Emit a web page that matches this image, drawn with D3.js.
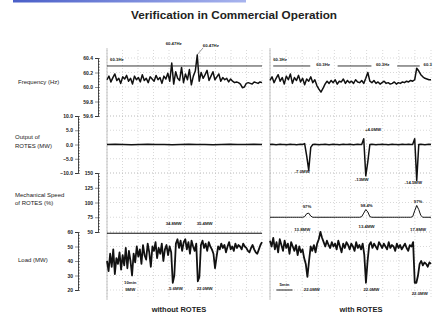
<!DOCTYPE html>
<html><head><meta charset="utf-8">
<script src="https://cdn.jsdelivr.net/npm/d3@7"></script>
<style>
body{margin:0;background:#fff;}
text{font-family:"Liberation Sans",Arial,sans-serif;fill:#222;}
</style></head><body><svg id="c" width="433" height="322"></svg>
<script>
// ---- data ----
const freqTicks=[59.6,59.8,60.0,60.2,60.4];
const outTicks=[-10,-5,0,5,10];
const speedTicks=[50,75,100,125,150];
const loadTicks=[20,30,40,50,60];
const freqRef=60.29;
const freqLeft=[60.10,60.15,60.07,60.13,60.18,60.09,60.12,60.05,60.14,60.11,
60.16,60.08,60.12,60.04,60.15,60.10,60.13,60.07,60.17,60.09,
60.12,60.06,60.14,60.11,60.08,60.16,60.10,60.13,60.05,60.15,
60.11,60.19,60.08,60.33,60.04,60.21,60.12,60.09,60.27,60.06,
60.18,60.10,60.24,60.03,60.15,60.22,60.44,60.08,60.20,60.12,
60.17,60.23,60.09,60.15,60.21,60.10,60.14,60.18,60.08,60.13,
60.10,60.12,60.07,60.11,60.08,60.06,60.07,60.06,60.04,59.99,
60.00,60.05,60.06,60.05,60.04,60.07,60.06,60.05,60.07,60.06];
const freqRight=[60.09,60.14,60.06,60.12,60.17,60.08,60.13,60.04,60.15,60.10,
60.18,60.05,60.13,60.09,60.16,60.07,60.12,60.03,60.11,60.08,
60.14,60.06,60.10,60.02,59.97,59.93,59.98,60.04,60.08,60.05,
60.09,60.06,60.10,60.04,60.08,60.07,60.11,60.05,60.09,60.06,
60.08,60.05,60.10,60.07,60.06,60.09,60.05,60.12,60.20,60.08,
60.06,60.09,60.05,60.07,60.04,60.06,60.08,60.05,60.06,60.04,
60.05,60.07,60.04,60.06,60.05,60.07,60.06,60.08,60.07,60.09,
60.08,60.10,60.26,60.22,60.17,60.14,60.12,60.11,60.10,60.10];
const outLeft=[0,0.1,0,-0.1,0,0.1,0,0,-0.1,0,0.1,0,0,-0.1,0,0.1,0,0,0.1,0];
const outRight=[0,0.1,0,-0.1,0,0.1,0,0,-0.1,0,0.1,0,0,-0.1,0,0.1,0,0.3,-4,-9,
-1,0,0.1,0,-0.1,0,0,0.1,0,-0.1,0,0.1,0,0,-0.1,0,0.1,0,0,0.1,
0,-0.1,0,0.1,0,0,2,-11,-6,0,0.1,0,-0.1,0,0,0.1,0,0,-0.1,0,
0.1,0,0,-0.1,0,0.1,0,0,0.1,0,0,2,-12.6,0,0.1,0,-0.1,0,0.1,0];
const speedLeft=[48,48,48,48,48,48,48,48,48,48,48,48,48,48,48,48,48,48,48,48];
const speedRight=[75,75,75,75,75,75,75,75,75,75,75,75,75,75,75,75,75,76,81,82,
77,75,75,75,75,75,75,75,75,75,75,75,75,75,75,75,75,75,75,75,
75,75,75,75,75,76,82,88,84,76,75,75,75,75,75,75,75,75,75,75,
75,75,75,75,75,75,75,75,75,75,76,86,95,88,78,75,75,75,75,75];
const loadLeft=[40,33,45,36,48,31,42,38,46,34,
44,37,49,35,47,40,30,45,39,50,
43,48,38,51,44,41,52,46,36,50,
47,53,42,49,45,52,40,48,51,44,
50,46,25,30,52,55,49,54,47,53,
55,48,53,45,54,50,47,52,26,29,
51,54,49,52,47,53,50,48,45,35,
43,50,48,52,49,51,46,50,53,48,
50,47,52,49,51,50,48,52,50,49,
47,46,49,51,48,46,45,48,51,53];
const loadRight=[54,50,56,48,53,46,55,51,47,54,
49,52,45,53,50,47,51,44,50,46,
48,42,38,29,40,50,47,51,46,52,
55,60,56,53,50,54,51,49,53,50,
52,48,54,50,46,52,49,53,51,48,
52,50,47,53,49,51,48,52,44,25,
40,51,53,49,52,50,48,53,51,49,
52,50,48,53,49,51,50,47,52,49,
51,48,50,52,49,47,51,50,53,25,
25,30,38,40,37,39,38,36,39,38];

// ---- scales ----
const svg=d3.select("#c");
const xL=d3.scaleLinear([0,100],[107,262]);
const xR=d3.scaleLinear([0,100],[270,431]);
const yF=d3.scaleLinear([59.6,60.4],[116,58]);
const yO=d3.scaleLinear([-10,10],[173,116]);
const yS=d3.scaleLinear([50,150],[232,173]);
const yLd=d3.scaleLinear([20,60],[290,232]);

// header bar
const grad=svg.append("defs").append("linearGradient").attr("id","bar");
grad.append("stop").attr("offset","0").attr("stop-color","#4a5fc8");
grad.append("stop").attr("offset","1").attr("stop-color","#a8b4ee");
svg.append("rect").attr("x",13).attr("y",0).attr("width",233).attr("height",2.5).attr("fill","url(#bar)");
svg.append("text").attr("x",234).attr("y",19).attr("text-anchor","middle")
  .attr("font-size",10).attr("font-weight","bold").attr("textLength",206).attr("lengthAdjust","spacingAndGlyphs")
  .text("Verification in Commercial Operation");

// grid
const g=svg.append("g").attr("stroke","#888").attr("stroke-width",0.5).attr("stroke-dasharray","1,2").attr("opacity",0.65);
[xL,xR].forEach(x=>{
  d3.range(0,101,10).forEach(p=>g.append("line").attr("x1",x(p)).attr("x2",x(p)).attr("y1",50).attr("y2",298));
  const hy=[].concat(freqTicks.map(yF),outTicks.map(yO),speedTicks.map(yS),loadTicks.map(yLd));
  hy.forEach(y=>g.append("line").attr("x1",x(0)).attr("x2",x(100)).attr("y1",y).attr("y2",y));
});
[xL,xR].forEach(x=>svg.append("line").attr("x1",x(0)).attr("x2",x(0)).attr("y1",48).attr("y2",300).attr("stroke","#aaa").attr("stroke-width",0.7));

// axes
function axis(scale,xpos,ticks,fmt){
  const a=svg.append("g").attr("transform",`translate(${xpos},0)`);
  a.call(d3.axisLeft(scale).tickValues(ticks).tickFormat(fmt).tickSize(3).tickPadding(2));
  const d=scale.domain(),step=(ticks[1]-ticks[0])/5;
  a.append("g").call(d3.axisRight(scale).tickValues(d3.range(d[0],d[1]+step/2,step)).tickFormat("").tickSize(2));
  a.selectAll("path").attr("stroke","#222").attr("stroke-width",0.8);
  a.selectAll("line").attr("stroke","#222").attr("stroke-width",0.5);
  a.selectAll("g > g > path").remove();
  a.selectAll("text").attr("font-size",5).attr("font-weight","bold").attr("fill","#333");
}
axis(yF,98,freqTicks,d3.format(".1f"));
axis(yO,78,outTicks,d3.format(".1f"));
axis(yS,98,speedTicks,d3.format("d"));
axis(yLd,78,loadTicks,d3.format("d"));

// side labels
const side=[["Frequency (Hz)",18,84],["Output of",15,139],["ROTES (MW)",15,148],
 ["Mechanical Speed",15,197],["of ROTES (%)",15,205],["Load (MW)",18,262]];
side.forEach(s=>svg.append("text").attr("x",s[1]).attr("y",s[2]).attr("font-size",6).attr("fill","#333").text(s[0]));

// traces
function trace(data,x,y,w){
  const n=data.length;
  svg.append("path").datum(data)
    .attr("d",d3.line().x((d,i)=>x(i/(n-1)*100)).y(d=>y(d)))
    .attr("fill","none").attr("stroke","#111").attr("stroke-width",w).attr("stroke-linejoin","round");
}
trace(freqLeft,xL,yF,1.5);trace(freqRight,xR,yF,1.5);
trace(outLeft,xL,yO,1.5);trace(outRight,xR,yO,1.5);
trace(speedLeft,xL,yS,1.1);trace(speedRight,xR,yS,1.0);
trace(loadLeft,xL,yLd,1.8);trace(loadRight,xR,yLd,1.8);

// frequency reference lines
function refLine(x,a,b,v){svg.append("line").attr("x1",x(a)).attr("x2",x(b)).attr("y1",yF(v)).attr("y2",yF(v)).attr("stroke","#222").attr("stroke-width",0.9);}
refLine(xL,0,100,freqRef);
refLine(xR,2,25,freqRef);refLine(xR,42,63,freqRef);refLine(xR,79,93,freqRef);

// annotations
function note(x,p,y,v,t,anchor){svg.append("text").attr("x",x(p)).attr("y",y(v)).attr("font-size",4.3).attr("font-weight","bold").attr("fill","#333").attr("text-anchor",anchor||"middle").text(t);}
note(xL,2,yF,60.36,"60.3Hz","start");
note(xL,43,yF,60.58,"60.47Hz");
note(xL,67,yF,60.55,"60.47Hz");
svg.append("line").attr("x1",xL(58)).attr("y1",yF(60.44)).attr("x2",xL(62)).attr("y2",yF(60.54)).attr("stroke","#333").attr("stroke-width",0.5);
note(xR,2,yF,60.36,"60.3Hz","start");
note(xR,33,yF,60.285,"60.3Hz");
note(xR,70,yF,60.285,"60.3Hz");
note(xR,98,yF,60.285,"60.3");
note(xR,20,yO,-10.1,"-7.0MW");
note(xR,57,yO,-12.8,"-13MW");
note(xR,89,yO,-13.9,"-14.5MW");
note(xR,64,yO,4.7,"+4.0MW");
note(xR,23,yS,90.5,"97%");
note(xR,60,yS,92.4,"98.4%");
note(xR,92,yS,99,"97%");
note(xL,43,yLd,64.8,"34.8MW");
note(xL,63,yLd,64.8,"35.4MW");
note(xL,44,yLd,20,"-5.6MW");
note(xL,63,yLd,20,"22.0MW");
note(xL,15,yLd,24.1,"10min");
note(xL,15,yLd,19.3,"9MW");
note(xR,20,yLd,60.7,"13.8MW");
note(xR,60,yLd,62.8,"13.4MW");
note(xR,92,yLd,60.7,"17.8MW");
note(xR,26,yLd,19.3,"22.0MW");
note(xR,63,yLd,19.3,"22.0MW");
note(xR,93,yLd,16.6,"22.0MW");
note(xR,9,yLd,22.8,"5min");
svg.append("line").attr("x1",xR(4)).attr("x2",xR(14)).attr("y1",yLd(20)).attr("y2",yLd(20)).attr("stroke","#222").attr("stroke-width",1);

// bottom captions
svg.append("text").attr("x",179).attr("y",312).attr("text-anchor","middle").attr("font-size",7.5).attr("font-weight","bold").text("without ROTES");
svg.append("text").attr("x",361).attr("y",312).attr("text-anchor","middle").attr("font-size",7.5).attr("font-weight","bold").text("with ROTES");
</script></body></html>
